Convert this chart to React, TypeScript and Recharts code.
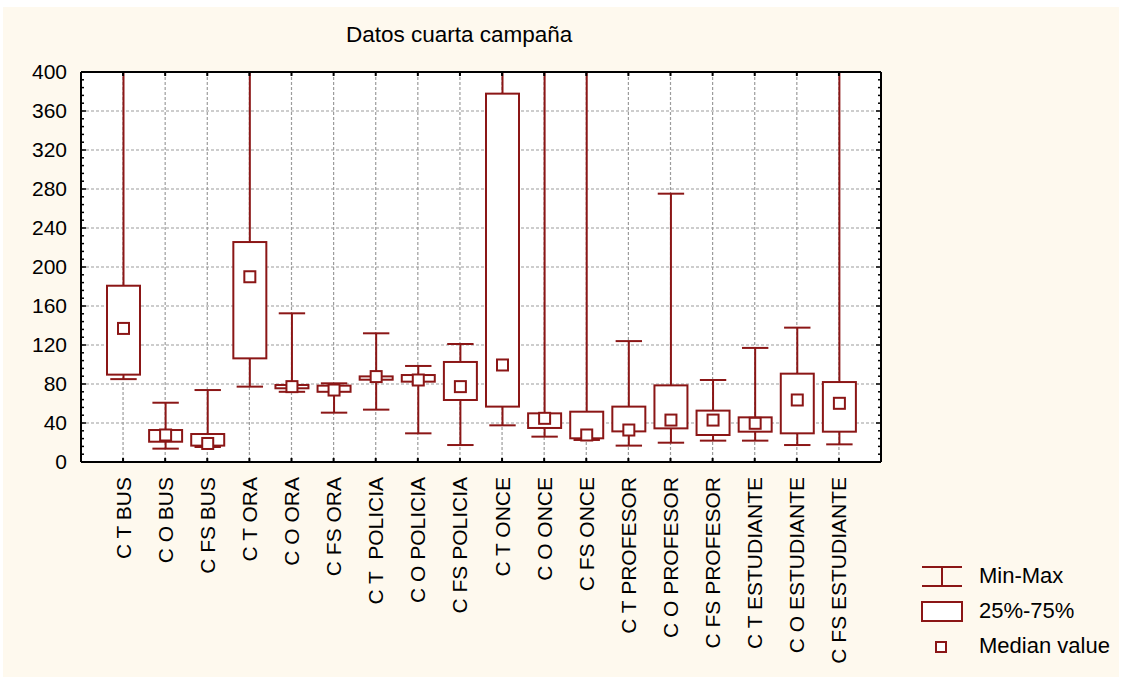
import React from "react";
import { ComposedChart, Bar, XAxis, YAxis, CartesianGrid, Legend } from "recharts";

const categories = [
  "C T BUS", "C O BUS", "C FS BUS",
  "C T ORA", "C O ORA", "C FS ORA",
  "C T  POLICIA", "C O POLICIA", "C FS POLICIA",
  "C T ONCE", "C O ONCE", "C FS ONCE",
  "C T PROFESOR", "C O PROFESOR", "C FS PROFESOR",
  "C T ESTUDIANTE", "C O ESTUDIANTE", "C FS ESTUDIANTE",
];
const minValues = [85, 13.7, 15.4, 77.3, 72, 50.6, 53.7, 29.4, 17.4, 37.6, 26, 22.6, 16.8, 19.8, 21.9, 21.9, 17.4, 18.1];
const q1Values = [89.6, 20.8, 16.8, 106.3, 75.6, 72, 84.4, 82.4, 63.6, 56.8, 34.9, 24.3, 31.4, 34.5, 27.7, 31.1, 29.4, 31.1];
const medianValues = [137, 27.7, 19, 190, 77.3, 73.8, 87.6, 84.1, 77.3, 99.5, 44.8, 27.7, 32.8, 43, 43, 39.7, 63.6, 60.2];
const q3Values = [180.8, 32.8, 28.7, 225.6, 79, 78.3, 87.8, 89.2, 102.6, 377.8, 49.9, 51.6, 56.8, 78.6, 52.7, 45.8, 90.6, 82];
// values above 400 run off the top of the plot
const maxValues = [560, 60.8, 73.8, 610, 152.5, 80.7, 132, 98.5, 121, 720, 650, 610, 124, 275.2, 84.1, 117, 137.8, 530];

const yTickLabels = [0, 40, 80, 120, 160, 200, 240, 280, 320, 360, 400];
const legendLabels = ["Min-Max", "25%-75%", "Median value"];

const RED = "#8b1616";
const FONT = '"Liberation Sans", Arial, sans-serif';
const Y_MAX = yTickLabels[yTickLabels.length - 1];

// minor ticks every 8 between the labelled ones
const yTicksAll = yTickLabels.flatMap((v, i) => (i === 0 ? [v] : [v - 32, v - 24, v - 16, v - 8, v]));
const gridValues = yTickLabels.slice(1, -1);

const data = categories.map((name, i) => ({
  name,
  min: minValues[i],
  q1: q1Values[i],
  median: medianValues[i],
  q3: q3Values[i],
  max: maxValues[i],
}));

function BoxShape(props: any) {
  const { x, y, width, height, payload } = props;
  if (!payload || !height) return null;
  // bar spans min..q3, so derive the pixel scale from it
  const k = height / (payload.q3 - payload.min);
  const base = y + height;
  const py = (v: number) => base - (v - payload.min) * k;
  const cx = x + width / 2;
  const top = py(Y_MAX);
  const yMax = Math.max(py(payload.max), top);
  const cap = width * 0.4;
  const m = 5.5;
  return (
    <g stroke={RED} strokeWidth={2} fill="#fff">
      <line x1={cx} x2={cx} y1={yMax} y2={py(payload.q3)} />
      <line x1={cx} x2={cx} y1={py(payload.q1)} y2={py(payload.min)} />
      {payload.max <= Y_MAX && <line x1={cx - cap} x2={cx + cap} y1={yMax} y2={yMax} />}
      <line x1={cx - cap} x2={cx + cap} y1={py(payload.min)} y2={py(payload.min)} />
      <rect x={x} y={py(payload.q3)} width={width} height={py(payload.q1) - py(payload.q3)} />
      <rect x={cx - m} y={py(payload.median) - m} width={m * 2} height={m * 2} />
    </g>
  );
}

function LeftTick({ x, y, payload }: any) {
  const major = yTickLabels.includes(payload.value);
  return (
    <g>
      <line x1={x} x2={x + (major ? 5 : 3)} y1={y} y2={y} stroke="#000" strokeWidth={1.5} />
      {major && (
        <text x={x - 14} y={y} dy={7} textAnchor="end" fontSize={21} fill="#000">
          {payload.value}
        </text>
      )}
    </g>
  );
}

function RightTick({ x, y, payload }: any) {
  const major = yTickLabels.includes(payload.value);
  return <line x1={x} x2={x - (major ? 5 : 3)} y1={y} y2={y} stroke="#000" strokeWidth={1.5} />;
}

function TopTick({ x, y }: any) {
  return <line x1={x} x2={x} y1={y} y2={y + 4} stroke="#000" strokeWidth={2} />;
}

function CategoryTick({ x, y, payload }: any) {
  return (
    <g>
      <line x1={x} x2={x} y1={y} y2={y - 4} stroke="#000" strokeWidth={2} />
      <text
        transform={`translate(${x + 7.5},${y + 15}) rotate(-90)`}
        textAnchor="end"
        fontSize={21}
        fill="#000"
        style={{ whiteSpace: "pre" }}
      >
        {payload.value}
      </text>
    </g>
  );
}

function BoxLegend() {
  return (
    <svg width={205} height={105} style={{ display: "block" }}>
      <g stroke={RED} strokeWidth={2} fill="#fff">
        <line x1={7} x2={47} y1={9} y2={9} />
        <line x1={7} x2={47} y1={28} y2={28} />
        <line x1={27} x2={27} y1={9} y2={28} />
        <rect x={7} y={44} width={40} height={19} />
        <rect x={21} y={84} width={10} height={10} />
      </g>
      {legendLabels.map((label, i) => (
        <text key={label} x={64} y={25 + 35 * i} fontSize={22} fill="#000">
          {label}
        </text>
      ))}
    </svg>
  );
}

export default function App() {
  return (
    <div style={{ position: "absolute", left: 0, top: 0, width: 1123, height: 681, background: "#fff", fontFamily: FONT }}>
      <div style={{ position: "absolute", left: 3, top: 7, width: 1116, height: 670, background: "#fef9ee" }} />
      <div style={{ position: "absolute", left: 346, top: 24, fontSize: 22.5, lineHeight: "22px", color: "#000", whiteSpace: "nowrap" }}>
        Datos cuarta campaña
      </div>
      <div style={{ position: "absolute", left: 0, top: 0 }}>
        <ComposedChart width={1123} height={681} data={data} margin={{ top: 71, right: 241, bottom: 189, left: 11 }}>
          <CartesianGrid
            stroke="#9c9c9c"
            strokeWidth={1.2}
            strokeDasharray="3 2"
            horizontalValues={gridValues}
            fill="#fff"
            fillOpacity={1}
          />
          <XAxis
            dataKey="name"
            interval={0}
            padding={{ left: 21, right: 21 }}
            height={30}
            tickSize={0}
            tickMargin={0}
            tick={<CategoryTick />}
            axisLine={{ stroke: "#000", strokeWidth: 2 }}
            tickLine={false}
          />
          <XAxis
            xAxisId="top"
            orientation="top"
            dataKey="name"
            interval={0}
            padding={{ left: 21, right: 21 }}
            height={1}
            tickSize={0}
            tickMargin={0}
            tick={<TopTick />}
            axisLine={{ stroke: "#000", strokeWidth: 2 }}
            tickLine={false}
          />
          <YAxis
            domain={[0, Y_MAX]}
            allowDataOverflow
            ticks={yTicksAll}
            interval={0}
            width={70}
            tickSize={0}
            tickMargin={0}
            tick={<LeftTick />}
            axisLine={{ stroke: "#000", strokeWidth: 2 }}
            tickLine={false}
          />
          <YAxis
            yAxisId="right"
            orientation="right"
            domain={[0, Y_MAX]}
            allowDataOverflow
            ticks={yTicksAll}
            interval={0}
            width={1}
            tickSize={0}
            tickMargin={0}
            tick={<RightTick />}
            axisLine={{ stroke: "#000", strokeWidth: 2 }}
            tickLine={false}
          />
          <Bar
            dataKey={(d: any) => [d.min, d.q3]}
            barSize={33}
            shape={<BoxShape />}
            isAnimationActive={false}
          />
          <Legend
            layout="vertical"
            align="center"
            verticalAlign="middle"
            content={<BoxLegend />}
            wrapperStyle={{ left: 915, top: 558, width: 205, height: 105 }}
          />
        </ComposedChart>
      </div>
    </div>
  );
}
